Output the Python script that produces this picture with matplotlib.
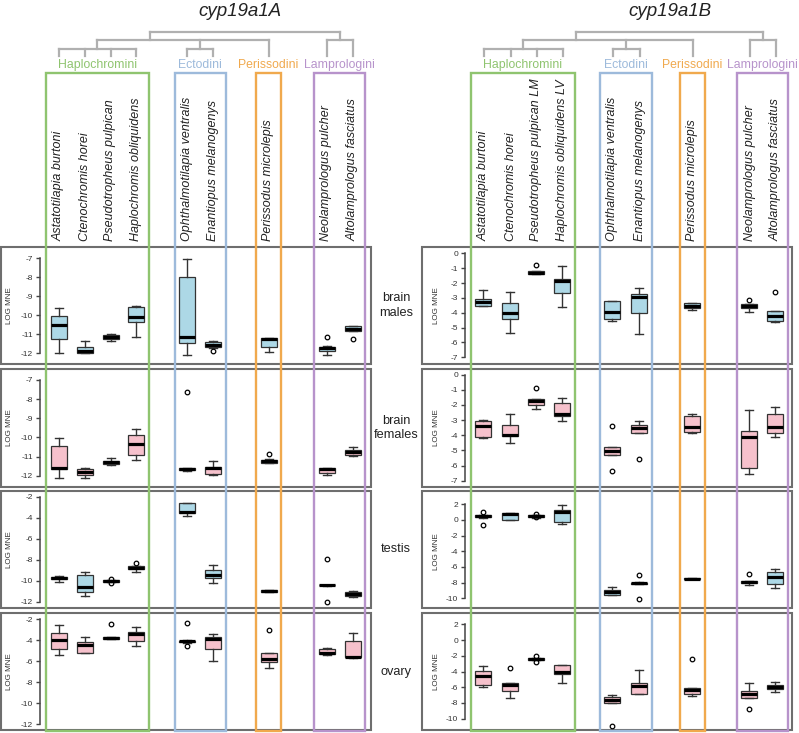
import matplotlib
matplotlib.use('Agg')
import matplotlib.pyplot as plt
from matplotlib.patches import Rectangle

plt.rcParams['font.family'] = ['Liberation Sans', 'DejaVu Sans']

W, H = 799, 733

# ---------------- data ----------------
genes = ['cyp19a1A', 'cyp19a1B']
groups = ['Haplochromini', 'Ectodini', 'Perissodini', 'Lamprologini']
group_sizes = [4, 2, 1, 2]
species_A = ['Astatotilapia burtoni', 'Ctenochromis horei', 'Pseudotropheus pulpican',
             'Haplochromis obliquidens', 'Ophthalmotilapia ventralis', 'Enantiopus melanogenys',
             'Perissodus microlepis', 'Neolamprologus pulcher', 'Altolamprologus fasciatus']
species_B = ['Astatotilapia burtoni', 'Ctenochromis horei', 'Pseudotropheus pulpican LM',
             'Haplochromis obliquidens LV', 'Ophthalmotilapia ventralis', 'Enantiopus melanogenys',
             'Perissodus microlepis', 'Neolamprologus pulcher', 'Altolamprologus fasciatus']
tissues = ['brain\nmales', 'brain\nfemales', 'testis', 'ovary']
ylabel = 'LOG MNE'

# box stats per species: [whislo, q1, median, q3, whishi]
A_brain_males = [[-12.0, -11.27, -10.5, -10.05, -9.6], [-12.0, -11.96, -11.88, -11.65, -11.35],
                 [-11.33, -11.25, -11.14, -11.03, -11.0], [-11.12, -10.33, -10.07, -9.58, -9.49],
                 [-12.09, -11.47, -11.16, -7.96, -7.05], [-11.7, -11.65, -11.54, -11.42, -11.33],
                 [-11.95, -11.65, -11.26, -11.18, -11.18], [-12.09, -11.86, -11.74, -11.65, -11.6],
                 [-10.85, -10.82, -10.74, -10.56, -10.56]]
A_brain_males_out = [[], [], [], [], [], [-11.88], [], [-11.16], [-11.25]]

A_brain_females = [[-12.1, -11.67, -11.58, -10.46, -10.05], [-12.1, -11.96, -11.79, -11.65, -11.6],
                   [-11.42, -11.39, -11.3, -11.22, -11.09], [-11.18, -10.93, -10.33, -9.86, -9.56],
                   [-11.74, -11.72, -11.67, -11.62, -11.61], [-11.95, -11.91, -11.6, -11.53, -11.23],
                   [-11.35, -11.33, -11.25, -11.16, -11.14], [-11.96, -11.88, -11.63, -11.58, -11.58],
                   [-10.95, -10.93, -10.78, -10.64, -10.52]]
A_brain_females_out = [[], [], [], [], [-7.61], [], [-10.85], [], []]

A_testis = [[-10.1, -9.82, -9.69, -9.59, -9.5], [-11.4, -11.08, -10.54, -9.44, -9.18],
            [-10.13, -10.08, -10.0, -9.93, -9.91], [-9.12, -8.87, -8.74, -8.61, -8.55],
            [-3.84, -3.58, -3.42, -2.57, -2.57], [-10.2, -9.75, -9.44, -8.96, -8.49],
            [-11.08, -11.03, -10.95, -10.9, -10.86], [-10.45, -10.43, -10.39, -10.36, -10.35],
            [-11.55, -11.45, -11.25, -11.05, -10.95]]
A_testis_out = [[], [], [-9.85, -10.15], [-8.27], [], [], [], [-7.95, -12.0], []]

A_ovary = [[-5.42, -4.82, -3.99, -3.3, -2.6], [-5.26, -5.2, -4.5, -4.15, -3.68],
           [-3.9, -3.88, -3.8, -3.7, -3.68], [-4.53, -4.12, -3.42, -3.2, -2.79],
           [-4.25, -4.22, -4.13, -4.05, -4.03], [-5.96, -4.88, -3.9, -3.68, -3.46],
           [-6.62, -6.08, -5.8, -5.26, -5.26], [-5.42, -5.35, -5.2, -4.85, -4.78],
           [-5.67, -5.65, -5.58, -4.12, -3.36]]
A_ovary_out = [[], [], [-2.5], [], [-2.38, -4.53], [], [-3.01], [], []]

B_brain_males = [[-3.55, -3.54, -3.25, -3.07, -2.47], [-5.34, -4.44, -4.04, -3.36, -2.6],
                 [-1.41, -1.38, -1.3, -1.2, -1.17], [-3.59, -2.65, -1.84, -1.75, -0.83],
                 [-4.55, -4.44, -3.92, -3.18, -3.18], [-5.45, -3.99, -2.91, -2.74, -2.35],
                 [-3.81, -3.65, -3.52, -3.36, -3.32], [-3.92, -3.65, -3.56, -3.43, -3.43],
                 [-4.6, -4.58, -4.22, -3.86, -3.86]]
B_brain_males_out = [[], [], [-0.78], [], [], [], [], [-3.14], [-2.62]]

B_brain_females = [[-4.15, -4.09, -3.37, -3.09, -2.98], [-4.48, -4.07, -3.96, -3.33, -2.61],
                   [-2.28, -2.0, -1.74, -1.63, -1.63], [-3.04, -2.76, -2.61, -1.85, -1.57],
                   [-5.33, -5.31, -5.07, -4.78, -4.78], [-3.87, -3.85, -3.52, -3.33, -3.04],
                   [-3.83, -3.76, -3.48, -2.72, -2.61], [-6.56, -6.14, -4.13, -3.7, -2.35],
                   [-4.13, -3.87, -3.43, -2.61, -2.11]]
B_brain_females_out = [[], [], [-0.87], [], [-3.41, -6.34], [-5.59], [], [], []]

B_testis = [[0.3, 0.32, 0.45, 0.62, 0.64], [-0.05, 0.0, 0.72, 0.85, 0.85],
            [0.3, 0.32, 0.45, 0.6, 0.62], [-0.55, -0.21, 0.98, 1.28, 1.91],
            [-9.6, -9.57, -9.23, -8.94, -8.51], [-8.2, -8.18, -8.1, -8.0, -7.96],
            [-7.57, -7.55, -7.5, -7.45, -7.4], [-8.3, -8.05, -7.94, -7.82, -7.79],
            [-8.72, -8.21, -7.32, -6.6, -6.3]]
B_testis_out = [[0.98, -0.64], [], [0.77, 0.34], [], [], [-7.02, -10.09], [], [-6.94], []]

B_ovary = [[-5.92, -5.71, -4.57, -3.93, -3.25], [-7.41, -6.52, -5.67, -5.42, -5.42],
           [-2.53, -2.5, -2.4, -2.3, -2.28], [-5.5, -4.27, -4.1, -3.21, -3.13],
           [-8.04, -8.04, -7.62, -7.28, -6.98], [-6.9, -6.86, -5.84, -5.5, -3.8],
           [-7.11, -6.86, -6.35, -6.09, -6.09], [-7.32, -7.32, -6.9, -6.47, -5.5],
           [-6.6, -6.22, -5.97, -5.71, -5.29]]
B_ovary_out = [[], [-3.51], [-1.98, -2.83], [], [-10.88], [], [-2.41], [-8.81], []]

A_ticks = [list(range(-7, -13, -1)), list(range(-7, -13, -1)),
           list(range(-2, -13, -2)), list(range(-2, -13, -2))]
B_ticks = [list(range(0, -8, -1)), list(range(0, -8, -1)),
           list(range(2, -11, -2)), list(range(2, -11, -2))]

# ---------------- layout (pixels) ----------------
group_colors = ['#8fc46f', '#9dbadb', '#f0a94d', '#b793cb']
box_colors = ['#add8e6', '#f6c1cc', '#add8e6', '#f6c1cc']
rows_px = [(247, 364), (369, 487), (491, 608), (613, 730)]
blocks = [
    dict(gene=genes[0], species=species_A, frame=(1, 371), axis_x=40, lab_x=10, title_x=240,
         xs=[58.5, 85, 110.5, 136, 187, 213, 268.5, 326.5, 352.5],
         ticks=A_ticks, tick_px=[(258.3, 353.3), (380, 475.7), (496.7, 602), (619, 724.3)],
         data=[(A_brain_males, A_brain_males_out), (A_brain_females, A_brain_females_out),
               (A_testis, A_testis_out), (A_ovary, A_ovary_out)]),
    dict(gene=genes[1], species=species_B, frame=(422, 792), axis_x=465, lab_x=437, title_x=670,
         xs=[483.5, 510.5, 536.5, 562.5, 612.5, 639.5, 692.5, 749.5, 775.5],
         ticks=B_ticks, tick_px=[(253.3, 357.3), (374.7, 480.7), (504.3, 598.3), (624.3, 718.7)],
         data=[(B_brain_males, B_brain_males_out), (B_brain_females, B_brain_females_out),
               (B_testis, B_testis_out), (B_ovary, B_ovary_out)]),
]
tissue_x = 396

fig = plt.figure(figsize=(W / 100, H / 100), dpi=100)
PX = 0.72  # points per pixel

for blk in blocks:
    fx0, fx1 = blk['frame']
    for r, (fy0, fy1) in enumerate(rows_px):
        ticks = blk['ticks'][r]
        ty0, ty1 = blk['tick_px'][r]
        s = (ty1 - ty0) / (ticks[0] - ticks[-1])
        ymax = ticks[0] + (ty0 - fy0) / s
        ymin = ticks[-1] - (fy1 - ty1) / s
        ax = fig.add_axes([fx0 / W, 1 - fy1 / H, (fx1 - fx0) / W, (fy1 - fy0) / H])
        ax.patch.set_alpha(0)
        for sp in ['top', 'right', 'bottom']:
            ax.spines[sp].set_visible(False)
        stats_rows, outs = blk['data'][r]
        stats = [dict(whislo=v[0], q1=v[1], med=v[2], q3=v[3], whishi=v[4], fliers=o)
                 for v, o in zip(stats_rows, outs)]
        ax.bxp(stats, positions=blk['xs'], widths=16, capwidths=8, patch_artist=True,
               manage_ticks=False,
               boxprops=dict(facecolor=box_colors[r], edgecolor='#333333', linewidth=0.9),
               medianprops=dict(color='black', linewidth=2.3, solid_capstyle='butt'),
               whiskerprops=dict(color='#333333', linewidth=1.0),
               capprops=dict(color='#333333', linewidth=1.0),
               flierprops=dict(marker='o', markersize=3.3, markerfacecolor='none',
                               markeredgecolor='black', markeredgewidth=0.9))
        ax.set_xlim(fx0, fx1)
        ax.set_ylim(ymin, ymax)
        ax.spines['left'].set_position(('data', blk['axis_x']))
        ax.spines['left'].set_bounds(min(ticks), max(ticks))
        ax.spines['left'].set_color('#444444')
        ax.spines['left'].set_linewidth(1.1)
        ax.set_xticks([])
        ax.set_yticks(ticks)
        ax.set_yticklabels([str(t) for t in ticks])
        ax.tick_params(axis='y', length=4 * PX, width=1.0, color='#444444',
                       labelsize=6, labelcolor='#333333', pad=2)
        ax.add_patch(Rectangle((0, 0), 1, 1, transform=ax.transAxes, fill=False,
                               edgecolor='#6e6e6e', lw=1.5, clip_on=False))
        ax.text(blk['lab_x'], (ticks[0] + ticks[-1]) / 2, ylabel, rotation=90,
                ha='center', va='center', fontsize=5.8, color='#333333')

# overlay for tree, group boxes, labels
ov = fig.add_axes([0, 0, 1, 1], zorder=10)
ov.set_xlim(0, W)
ov.set_ylim(H, 0)
ov.axis('off')
ov.patch.set_alpha(0)

tree_c = '#b0b0b0'
tlw = 1.6
y_root, y_l2, y_l3, y_tip = 32, 40, 49, 56
rect_top, rect_bot = 73, 731
for blk in blocks:
    xs = blk['xs']
    ov.text(blk['title_x'], 11, blk['gene'], ha='center', va='center', fontsize=13.5,
            style='italic', color='#222222')
    idx = 0
    gx = []
    for g, n in enumerate(group_sizes):
        members = xs[idx:idx + n]
        x0, x1 = min(members) - 12.5, max(members) + 12.5
        ov.add_patch(Rectangle((x0, rect_top), x1 - x0, rect_bot - rect_top, fill=False,
                               edgecolor=group_colors[g], lw=1.7))
        ov.text((min(members) + max(members)) / 2, 65, groups[g], ha='center', va='center',
                fontsize=8.8, color=group_colors[g])
        gx.append(members)
        idx += n

    def seg(x0, y0, x1, y1):
        ov.plot([x0, x1], [y0, y1], color=tree_c, lw=tlw, solid_capstyle='projecting')
    hap, ect, per, lam = gx
    hap_node = (hap[0] + hap[-1]) / 2
    ect_node = (ect[0] + ect[-1]) / 2
    per_node = per[0]
    lam_node = (lam[0] + lam[-1]) / 2
    for x in hap:
        seg(x, y_l3, x, y_tip)
    seg(hap[0], y_l3, hap[-1], y_l3)
    seg(hap_node, y_l2, hap_node, y_l3)
    for x in ect:
        seg(x, y_l3, x, y_tip)
    seg(ect[0], y_l3, ect[-1], y_l3)
    seg(ect_node, y_l2, ect_node, y_l3)
    seg(per_node, y_l2, per_node, y_tip)
    seg(hap_node, y_l2, per_node, y_l2)
    inner = hap_node + 0.31 * (per_node - hap_node)
    seg(inner, y_root, inner, y_l2)
    for x in lam:
        seg(x, y_l2, x, y_tip)
    seg(lam[0], y_l2, lam[-1], y_l2)
    seg(lam_node, y_root, lam_node, y_l2)
    seg(inner, y_root, lam_node, y_root)
    for x, sp in zip(xs, blk['species']):
        ov.text(x, 241, sp, rotation=90, ha='center', va='bottom', fontsize=9,
                style='italic', color='#222222')

for r, (fy0, fy1) in enumerate(rows_px):
    ov.text(tissue_x, (fy0 + fy1) / 2, tissues[r], ha='center', va='center', fontsize=9.2,
            color='#222222', linespacing=1.25)

fig.savefig('out.png', dpi=100)
